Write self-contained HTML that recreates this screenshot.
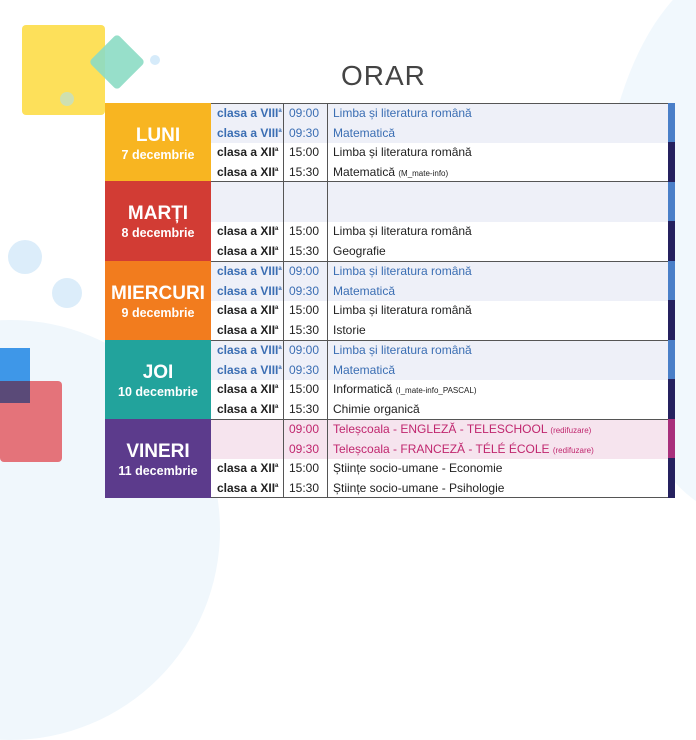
<!DOCTYPE html>
<html><head><meta charset="utf-8"><style>
*{margin:0;padding:0;box-sizing:border-box}
body{width:696px;height:522px;overflow:hidden;background:#fff;position:relative;font-family:"Liberation Sans",Arial,sans-serif}
.a{position:absolute}
.r{position:absolute;left:211px;width:457px;height:20px;font-size:12px;line-height:20px;color:#222}
.r span{position:absolute;top:0;white-space:nowrap}
.r sup{font-size:6px;line-height:0;vertical-align:5px}
.c{left:6px;font-weight:bold}
.t{left:78px}
.s{left:122px}
.r small{font-size:8px}
.b{background:#eef0f8;color:#3b6eb3}
.p{background:#f6e4ee;color:#c0266e}
.st{position:absolute;left:457px;width:7px;height:20px;top:0;background:#25215f}
.b .st{background:#4a7fc8}
.p .st{background:#a8307c}
.day{position:absolute;left:105px;width:106px;color:#fff;text-align:center;font-weight:bold}
.day b{display:block;font-size:19px;line-height:22px}
.day i{display:block;font-style:normal;font-size:12.5px;line-height:16px}
.hl{position:absolute;left:211px;width:457px;height:1px;background:#555}
.vl{position:absolute;top:103px;width:1px;height:395px;background:#555}
</style></head><body>
<div class="a" style="left:600px;top:-40px;width:300px;height:560px;border-radius:50%;background:#f1f8fd"></div>
<div class="a" style="left:-200px;top:320px;width:420px;height:420px;border-radius:50%;background:#f0f7fc"></div>
<div class="a" style="left:22px;top:25px;width:83px;height:90px;background:#fde05a;border-radius:4px"></div>
<div class="a" style="left:97px;top:42px;width:40px;height:40px;background:#8cdcc4;transform:rotate(45deg);border-radius:4px;opacity:.9"></div>
<div class="a" style="left:150px;top:55px;width:10px;height:10px;border-radius:50%;background:#d6ebfa"></div>
<div class="a" style="left:60px;top:92px;width:14px;height:14px;border-radius:50%;background:#cfe0b0"></div>
<div class="a" style="left:8px;top:240px;width:34px;height:34px;border-radius:50%;background:#dcedfa"></div>
<div class="a" style="left:52px;top:278px;width:30px;height:30px;border-radius:50%;background:#dcedfa"></div>
<div class="a" style="left:0;top:381px;width:62px;height:81px;background:#e4737a;border-radius:4px"></div>
<div class="a" style="left:0;top:348px;width:30px;height:55px;background:#3e97e8"></div>
<div class="a" style="left:0;top:381px;width:30px;height:22px;background:#5a4a78"></div>
<div class="a" style="left:341px;top:60px;font-size:28px;color:#444;line-height:32px;letter-spacing:1px">ORAR</div>

<div class="a" style="left:211px;top:103px;width:464px;height:395px;background:#fff"></div>

<div class="r b" style="top:103px"><span class="c">clasa a VIII<sup>a</sup></span><span class="t">09:00</span><span class="s">Limba și literatura română</span><div class="st"></div></div>
<div class="r b" style="top:123px"><span class="c">clasa a VIII<sup>a</sup></span><span class="t">09:30</span><span class="s">Matematică</span><div class="st"></div></div>
<div class="r" style="top:142px"><span class="c">clasa a XII<sup>a</sup></span><span class="t">15:00</span><span class="s">Limba și literatura română</span><div class="st"></div></div>
<div class="r" style="top:162px"><span class="c">clasa a XII<sup>a</sup></span><span class="t">15:30</span><span class="s">Matematică <small>(M_mate-info)</small></span><div class="st"></div></div>
<div class="r b" style="top:182px"><div class="st"></div></div>
<div class="r b" style="top:202px"><div class="st"></div></div>
<div class="r" style="top:221px"><span class="c">clasa a XII<sup>a</sup></span><span class="t">15:00</span><span class="s">Limba și literatura română</span><div class="st"></div></div>
<div class="r" style="top:241px"><span class="c">clasa a XII<sup>a</sup></span><span class="t">15:30</span><span class="s">Geografie</span><div class="st"></div></div>
<div class="r b" style="top:261px"><span class="c">clasa a VIII<sup>a</sup></span><span class="t">09:00</span><span class="s">Limba și literatura română</span><div class="st"></div></div>
<div class="r b" style="top:281px"><span class="c">clasa a VIII<sup>a</sup></span><span class="t">09:30</span><span class="s">Matematică</span><div class="st"></div></div>
<div class="r" style="top:300px"><span class="c">clasa a XII<sup>a</sup></span><span class="t">15:00</span><span class="s">Limba și literatura română</span><div class="st"></div></div>
<div class="r" style="top:320px"><span class="c">clasa a XII<sup>a</sup></span><span class="t">15:30</span><span class="s">Istorie</span><div class="st"></div></div>
<div class="r b" style="top:340px"><span class="c">clasa a VIII<sup>a</sup></span><span class="t">09:00</span><span class="s">Limba și literatura română</span><div class="st"></div></div>
<div class="r b" style="top:360px"><span class="c">clasa a VIII<sup>a</sup></span><span class="t">09:30</span><span class="s">Matematică</span><div class="st"></div></div>
<div class="r" style="top:379px"><span class="c">clasa a XII<sup>a</sup></span><span class="t">15:00</span><span class="s">Informatică <small>(I_mate-info_PASCAL)</small></span><div class="st"></div></div>
<div class="r" style="top:399px"><span class="c">clasa a XII<sup>a</sup></span><span class="t">15:30</span><span class="s">Chimie organică</span><div class="st"></div></div>
<div class="r p" style="top:419px"><span class="t">09:00</span><span class="s">Teleșcoala - ENGLEZĂ - TELESCHOOL <small>(redifuzare)</small></span><div class="st"></div></div>
<div class="r p" style="top:439px"><span class="t">09:30</span><span class="s">Teleșcoala - FRANCEZĂ - TÉLÉ ÉCOLE <small>(redifuzare)</small></span><div class="st"></div></div>
<div class="r" style="top:458px"><span class="c">clasa a XII<sup>a</sup></span><span class="t">15:00</span><span class="s">Științe socio-umane - Economie</span><div class="st"></div></div>
<div class="r" style="top:478px"><span class="c">clasa a XII<sup>a</sup></span><span class="t">15:30</span><span class="s">Științe socio-umane - Psihologie</span><div class="st"></div></div>

<div class="hl" style="top:103px"></div>
<div class="hl" style="top:181px"></div>
<div class="hl" style="top:261px"></div>
<div class="hl" style="top:340px"></div>
<div class="hl" style="top:419px"></div>
<div class="hl" style="top:497px"></div>
<div class="vl" style="left:283px"></div>
<div class="vl" style="left:327px"></div>

<div class="day" style="top:103px;height:78px;background:#f8b521;padding-top:22px"><b>LUNI</b><i>7 decembrie</i></div>
<div class="day" style="top:181px;height:80px;background:#d23c34;padding-top:22px"><b>MARȚI</b><i>8 decembrie</i></div>
<div class="day" style="top:261px;height:79px;background:#f27c1e;padding-top:22px"><b>MIERCURI</b><i>9 decembrie</i></div>
<div class="day" style="top:340px;height:79px;background:#22a39c;padding-top:22px"><b>JOI</b><i>10 decembrie</i></div>
<div class="day" style="top:419px;height:79px;background:#5c3b8c;padding-top:22px"><b>VINERI</b><i>11 decembrie</i></div>
</body></html>
